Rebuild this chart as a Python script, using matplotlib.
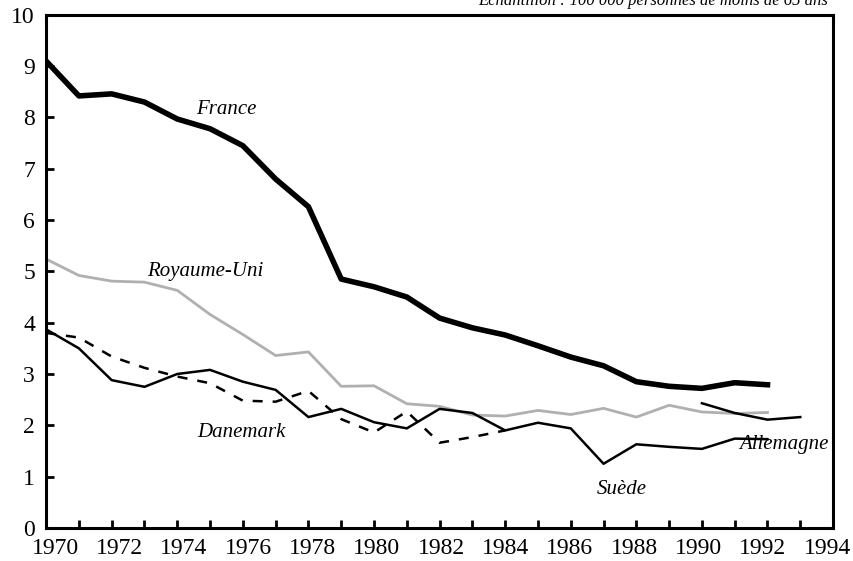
import numpy as np
import matplotlib
matplotlib.use("Agg")
import matplotlib.pyplot as plt
from matplotlib.ticker import MultipleLocator, FixedLocator
from matplotlib.transforms import ScaledTranslation

# data
years = np.arange(1970, 1993)
france = [9.1, 8.42, 8.46, 8.3, 7.97, 7.78, 7.45, 6.8, 6.26, 4.85, 4.7, 4.5,
          4.09, 3.9, 3.76, 3.55, 3.33, 3.16, 2.85, 2.76, 2.72, 2.83, 2.79]
royaume_uni = [5.24, 4.92, 4.81, 4.79, 4.63, 4.16, 3.77, 3.36, 3.43, 2.76, 2.77, 2.42,
               2.37, 2.2, 2.18, 2.29, 2.21, 2.33, 2.16, 2.39, 2.26, 2.23, 2.25]
suede = [3.87, 3.5, 2.88, 2.75, 3.0, 3.08, 2.85, 2.69, 2.16, 2.32, 2.06, 1.94,
         2.32, 2.24, 1.9, 2.05, 1.94, 1.25, 1.63, 1.58, 1.54, 1.74, 1.73]
dk_years = np.arange(1970, 1985)
danemark = [3.8, 3.71, 3.34, 3.12, 2.95, 2.82, 2.48, 2.46, 2.67, 2.12, 1.86, 2.27,
            1.66, 1.77, 1.9]
de_years = np.arange(1990, 1994)
allemagne = [2.43, 2.24, 2.11, 2.16]
label_years = list(range(1970, 1995, 2))

plt.rcParams['font.family'] = ['Liberation Serif', 'DejaVu Serif']

fig = plt.figure(figsize=(8.54, 5.61), dpi=100)
ax = fig.add_axes([0.054, 0.059, 0.9215, 0.9145])

ax.plot(years, france, color='black', lw=4.0, solid_joinstyle='round')
ax.plot(years, royaume_uni, color='#b0b0b0', lw=2.0)
ax.plot(years, suede, color='black', lw=1.8)
ax.plot(dk_years, danemark, color='black', lw=1.8, dashes=(4, 4))
ax.plot(de_years, allemagne, color='black', lw=1.8)

lab = dict(fontsize=15, style='italic', ha='center', va='center')
ax.text(1975.5, 8.15, 'France', **lab)
ax.text(1974.85, 5.0, 'Royaume-Uni', **lab)
ax.text(1975.95, 1.85, 'Danemark', **lab)
ax.text(1987.55, 0.74, 'Suède', **lab)
ax.text(1991.15, 1.62, 'Allemagne', fontsize=15, style='italic',
        ha='left', va='center', clip_on=True)

# subtitle, partly cut by the top edge as in the original
fig.text(0.97, 1 - 5 / 561, 'Echantillon : 100 000 personnes de moins de 65 ans',
         fontsize=12, style='italic', ha='right', va='baseline')

ax.set_xlim(1970, 1994)
ax.set_ylim(0, 10)
ax.xaxis.set_major_locator(FixedLocator(label_years))
ax.xaxis.set_minor_locator(MultipleLocator(1))
ax.yaxis.set_major_locator(MultipleLocator(1))
ax.tick_params(which='both', direction='in', length=6, width=2, labelsize=17)
ax.tick_params(axis='x', pad=7)
ax.tick_params(axis='y', pad=8)
ax.tick_params(axis='y', which='minor', left=False)
for s in ax.spines.values():
    s.set_linewidth(2.2)

# the year labels sit a little closer together than the ticks in the original
fig.canvas.draw()
for tick, yr in zip(ax.xaxis.get_major_ticks(), label_years):
    dx = (9 - (yr - 1970) * 0.62) / 100
    tick.label1.set_transform(tick.label1.get_transform()
                              + ScaledTranslation(dx, 0, fig.dpi_scale_trans))

fig.savefig('out.png', dpi=100)
